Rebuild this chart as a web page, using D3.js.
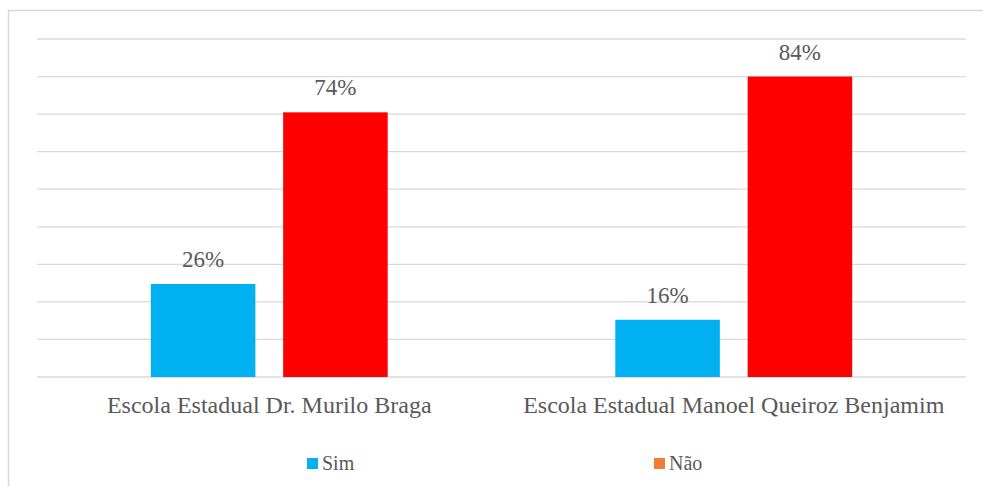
<!DOCTYPE html>
<html lang="pt">
<head>
    <meta charset="UTF-8">
    <title>Sim / Não por escola</title>
    <script src="https://d3js.org/d3.v7.min.js"></script>
    <style>
        body {
            margin: 0;
            background: #ffffff;
        }
        svg {
            display: block;
        }
        .grid line {
            stroke: #d9d9d9;
            stroke-width: 1.3px;
        }
    </style>
</head>
<body>
    <svg id="chart" width="983" height="486"></svg>

    <script>
        // Data
        const schools = ["Escola Estadual Dr. Murilo Braga", "Escola Estadual Manoel Queiroz Benjamim"];
        const seriesNames = ["Sim", "Não"];
        const sim = [26, 16];
        const nao = [74, 84];
        const gridTicks = [0, 10.5, 21, 31.5, 42, 52.5, 63, 73.5, 84, 94.5];

        const barColors = ["#00b0f0", "#ff0000"];
        const legendColors = ["#00b0f0", "#ed7d31"];
        const font = "Liberation Serif";
        const textColor = "#595959";

        const rows = schools.map((s, i) => ({ school: s, values: [sim[i], nao[i]] }));

        const svg = d3.select("#chart");
        const margin = { top: 39, left: 37, right: 17, bottom: 109 };
        const width = +svg.attr("width") - margin.left - margin.right;
        const height = +svg.attr("height") - margin.top - margin.bottom;

        // chart border
        svg.append("rect")
            .attr("x", 8.5).attr("y", 10.5)
            .attr("width", 985).attr("height", 490)
            .attr("fill", "none")
            .attr("stroke", "#d9d9d9")
            .attr("stroke-width", 1.5);

        const g = svg.append("g")
            .attr("transform", `translate(${margin.left},${margin.top})`);

        const x0 = d3.scaleBand()
            .domain(schools)
            .range([0, width])
            .padding(0);

        const x1 = d3.scaleBand()
            .domain(seriesNames)
            .range([0, x0.bandwidth()])
            .paddingInner(0.21)
            .paddingOuter(0.86);

        const y = d3.scaleLinear()
            .domain([0, 94.5])
            .range([height, 0]);

        // gridlines
        g.append("g")
            .attr("class", "grid")
            .selectAll("line")
            .data(gridTicks)
            .join("line")
            .attr("x1", 0)
            .attr("x2", width)
            .attr("y1", d => y(d))
            .attr("y2", d => y(d));

        // bars
        const groups = g.selectAll(".group")
            .data(rows)
            .join("g")
            .attr("class", "group")
            .attr("transform", d => `translate(${x0(d.school)},0)`);

        groups.selectAll("rect")
            .data(d => d.values.map((v, i) => ({ key: seriesNames[i], value: v, i: i })))
            .join("rect")
            .attr("x", d => x1(d.key))
            .attr("y", d => y(d.value))
            .attr("width", x1.bandwidth())
            .attr("height", d => y(0) - y(d.value))
            .attr("fill", d => barColors[d.i]);

        groups.selectAll("text")
            .data(d => d.values.map((v, i) => ({ key: seriesNames[i], value: v })))
            .join("text")
            .attr("font-family", font)
            .attr("font-size", 23)
            .attr("fill", textColor)
            .attr("text-anchor", "middle")
            .attr("x", d => x1(d.key) + x1.bandwidth() / 2)
            .attr("y", d => y(d.value) - 17)
            .text(d => d.value + "%");

        // category labels
        g.selectAll(".cat")
            .data(schools)
            .join("text")
            .attr("class", "cat")
            .attr("font-family", font)
            .attr("font-size", 24)
            .attr("fill", textColor)
            .attr("text-anchor", "middle")
            .attr("x", d => x0(d) + x0.bandwidth() / 2)
            .attr("y", height + 36)
            .text(d => d);

        // legend
        const legend = svg.append("g")
            .attr("class", "legend");

        const items = legend.selectAll("g")
            .data(seriesNames)
            .join("g")
            .attr("transform", (d, i) => `translate(${307 + i * 347},458)`);

        items.append("rect")
            .attr("width", 11)
            .attr("height", 11)
            .attr("fill", (d, i) => legendColors[i]);

        items.append("text")
            .attr("font-family", font)
            .attr("font-size", 20)
            .attr("fill", textColor)
            .attr("x", 15)
            .attr("y", 12)
            .text(d => d);
    </script>
</body>
</html>
